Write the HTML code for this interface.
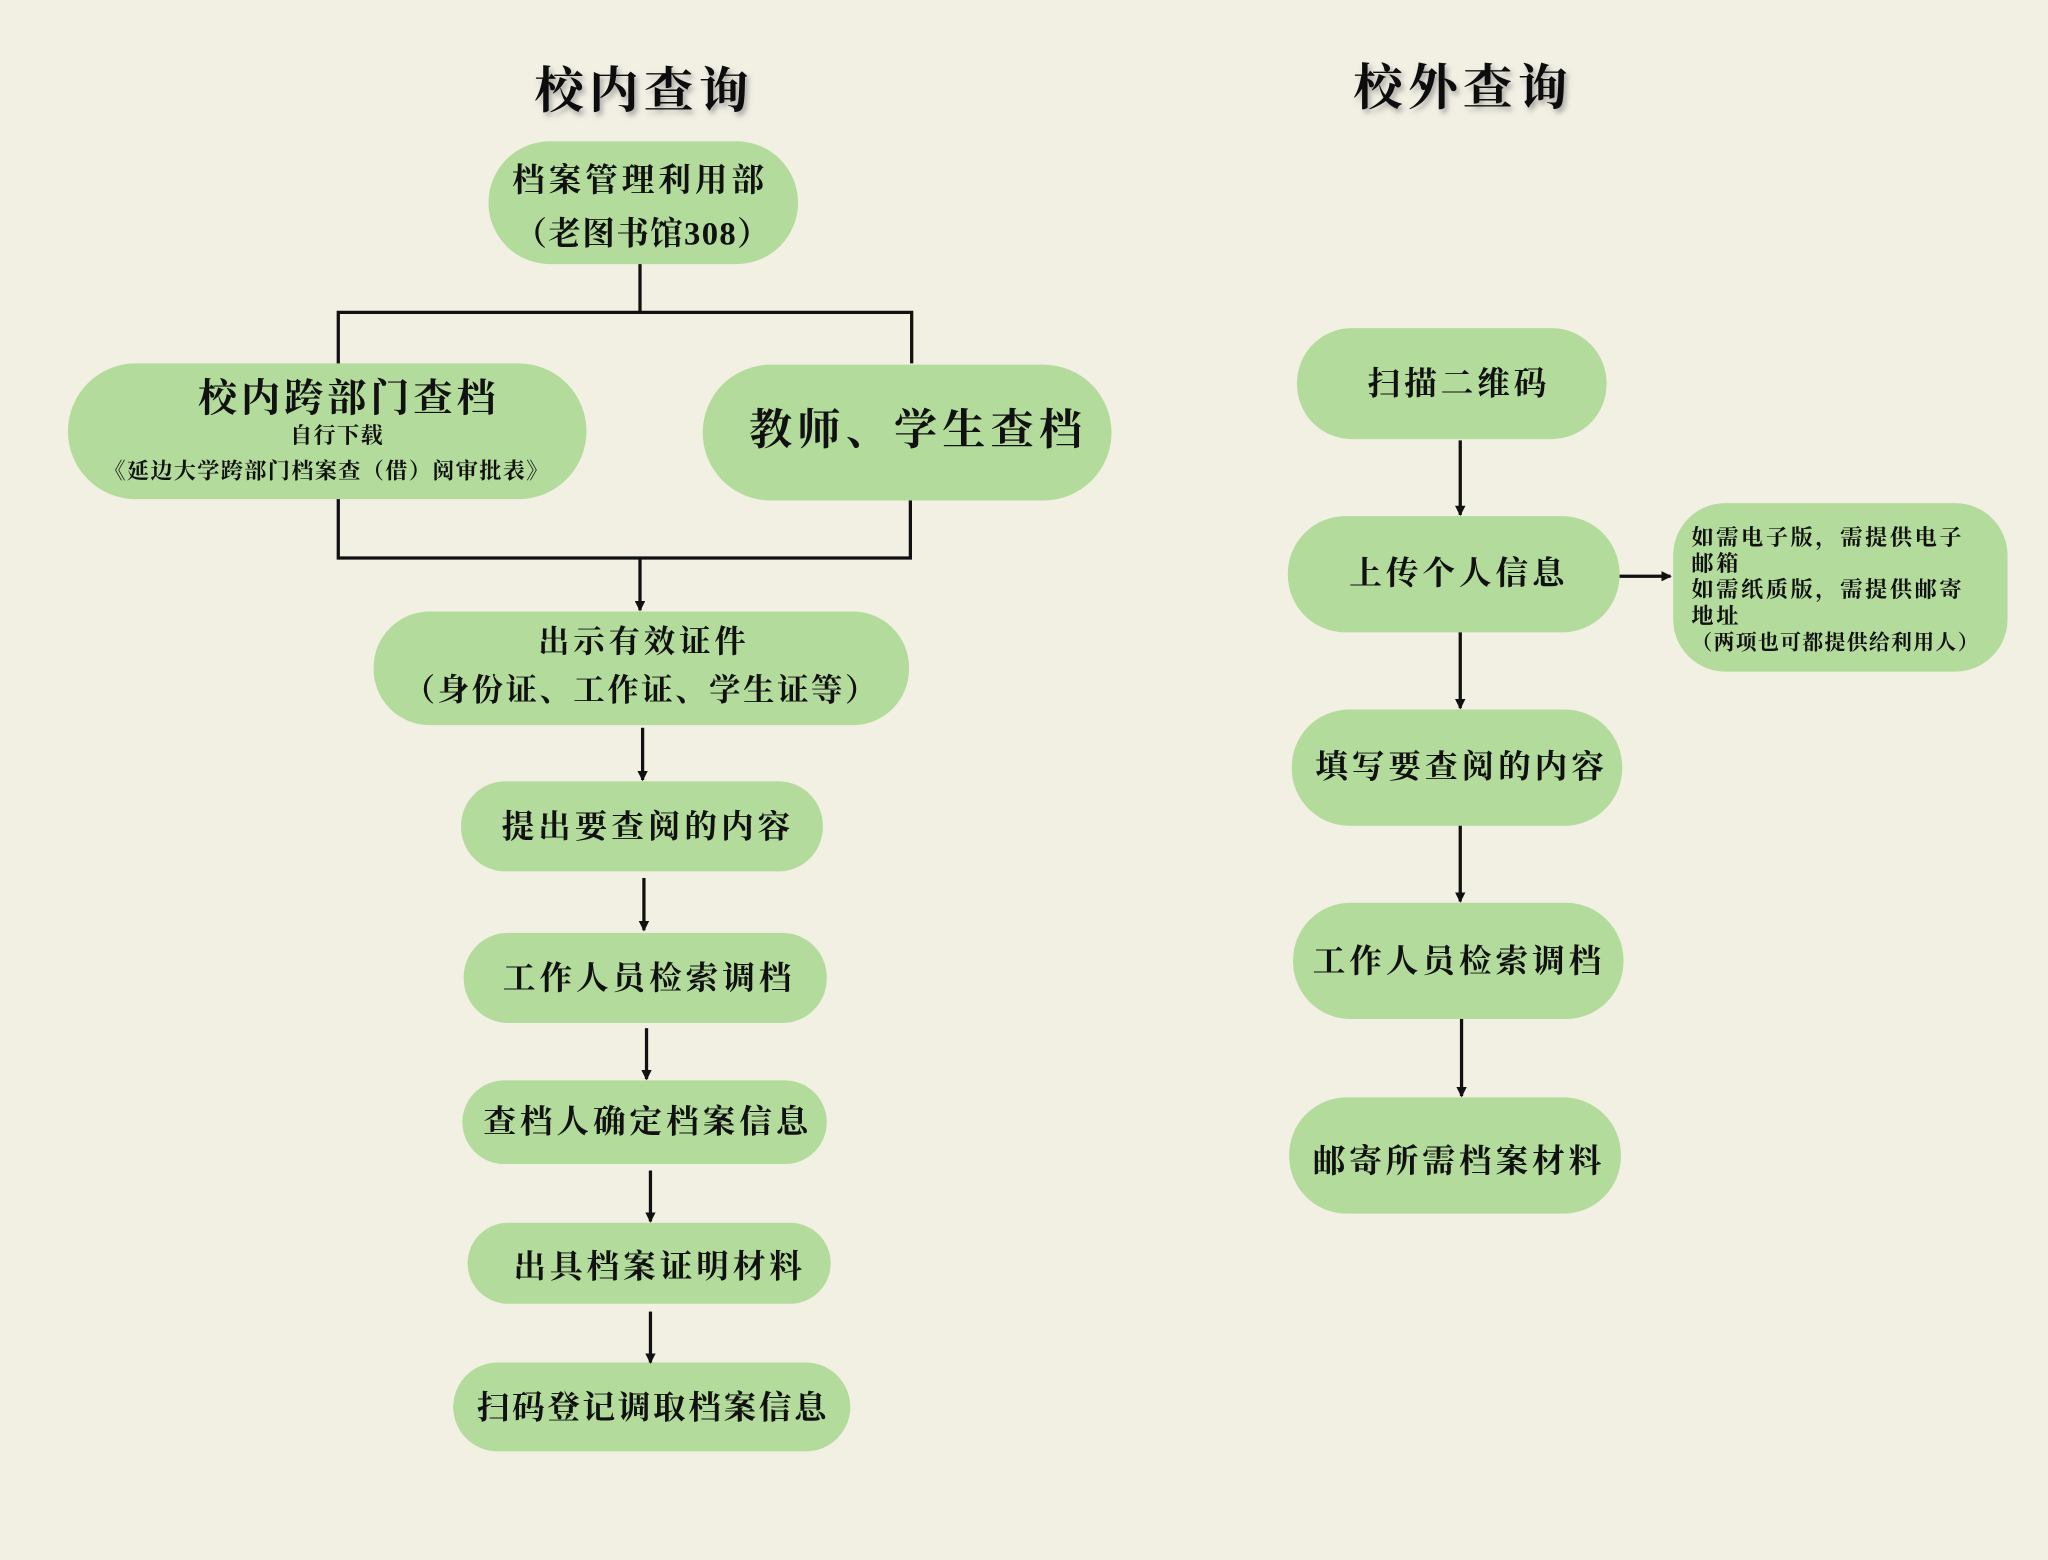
<!DOCTYPE html>
<html><head><meta charset="utf-8"><style>
html,body{margin:0;padding:0;background:#f2efe3;}
svg{display:block;}
text{font-family:"Liberation Serif","Noto Serif CJK SC","Noto Sans CJK SC",serif;font-weight:bold;fill:#111;}
</style></head><body>
<svg width="2048" height="1560" viewBox="0 0 1568 1194" xmlns="http://www.w3.org/2000/svg">
<defs>
<marker id="a" markerWidth="8" markerHeight="8" refX="7" refY="4" orient="auto" markerUnits="userSpaceOnUse"><path d="M0,0 L8,4 L0,8 z" fill="#111"/></marker>
<filter id="sh"><feDropShadow dx="2" dy="3" stdDeviation="2" flood-color="#777" flood-opacity="0.6"/></filter>
</defs>
<rect width="1568" height="1194" fill="#f2efe3"/>
<g fill="#b3db9b">
<rect x="374" y="108" width="237" height="94" rx="47"/>
<rect x="52" y="278" width="397" height="104" rx="52"/>
<rect x="538" y="279" width="313" height="104" rx="52"/>
<rect x="286" y="468" width="410" height="87" rx="43"/>
<rect x="353" y="598" width="277" height="69" rx="34"/>
<rect x="355" y="714" width="278" height="69" rx="34"/>
<rect x="354" y="827" width="279" height="64" rx="32"/>
<rect x="358" y="936" width="278" height="62" rx="31"/>
<rect x="347" y="1043" width="304" height="68" rx="34"/>
<rect x="993" y="251" width="237" height="85" rx="42"/>
<rect x="986" y="395" width="254" height="89" rx="44"/>
<rect x="1281" y="385" width="256" height="129" rx="40"/>
<rect x="989" y="543" width="253" height="89" rx="44"/>
<rect x="990" y="691" width="253" height="89" rx="44"/>
<rect x="987" y="840" width="254" height="89" rx="44"/>
</g>
<g stroke="#111" stroke-width="2.5" fill="none">
<path d="M490,202 V239 M259,278 V239 H698 V278"/>
<path d="M259,382 V427 H697 V383"/>
</g>
<g stroke="#111" stroke-width="2.5" marker-end="url(#a)">
<line x1="490" y1="427" x2="490" y2="467"/>
<line x1="492" y1="557" x2="492" y2="597"/>
<line x1="493" y1="672" x2="493" y2="712"/>
<line x1="495" y1="787" x2="495" y2="826"/>
<line x1="498" y1="896" x2="498" y2="935"/>
<line x1="498" y1="1004" x2="498" y2="1043"/>
<line x1="1118" y1="337" x2="1118" y2="394"/>
<line x1="1240" y1="441" x2="1279" y2="441"/>
<line x1="1118" y1="484" x2="1118" y2="542"/>
<line x1="1118" y1="632" x2="1118" y2="690"/>
<line x1="1119" y1="780" x2="1119" y2="839"/>
</g>
<g text-anchor="middle">
<text x="493" y="82" font-size="38" filter="url(#sh)" letter-spacing="4">校内查询</text>
<text x="1120" y="80" font-size="38" filter="url(#sh)" letter-spacing="4">校外查询</text>
<text x="490" y="146" font-size="25" letter-spacing="3">档案管理利用部</text>
<text x="492" y="187" font-size="25" letter-spacing="1">（老图书馆308）</text>
<text x="267" y="315" font-size="30" letter-spacing="3">校内跨部门查档</text>
<text x="258" y="339" font-size="17" letter-spacing="1">自行下载</text>
<text x="250" y="366" font-size="17" letter-spacing="1">《延边大学跨部门档案查（借）阅审批表》</text>
<text x="703" y="340" font-size="33" letter-spacing="4">教师、学生查档</text>
<text x="493" y="499" font-size="24" letter-spacing="3">出示有效证件</text>
<text x="491" y="536" font-size="24" letter-spacing="2">（身份证、工作证、学生证等）</text>
<text x="496" y="641" font-size="25" letter-spacing="3">提出要查阅的内容</text>
<text x="497" y="757" font-size="25" letter-spacing="3">工作人员检索调档</text>
<text x="496" y="867" font-size="25" letter-spacing="3">查档人确定档案信息</text>
<text x="505" y="978" font-size="25" letter-spacing="3">出具档案证明材料</text>
<text x="500" y="1086" font-size="25" letter-spacing="2">扫码登记调取档案信息</text>
<text x="1117" y="302" font-size="25" letter-spacing="3">扫描二维码</text>
<text x="1117" y="447" font-size="25" letter-spacing="3">上传个人信息</text>
<text x="1119" y="595" font-size="25" letter-spacing="3">填写要查阅的内容</text>
<text x="1117" y="744" font-size="25" letter-spacing="3">工作人员检索调档</text>
<text x="1117" y="897" font-size="25" letter-spacing="3">邮寄所需档案材料</text>
</g>
<g font-size="17" letter-spacing="2">
<text x="1295" y="417">如需电子版，需提供电子</text>
<text x="1295" y="437">邮箱</text>
<text x="1295" y="457">如需纸质版，需提供邮寄</text>
<text x="1295" y="477">地址</text>
<text x="1295" y="497" font-size="16" letter-spacing="1">（两项也可都提供给利用人）</text>
</g>
</svg>
</body></html>
